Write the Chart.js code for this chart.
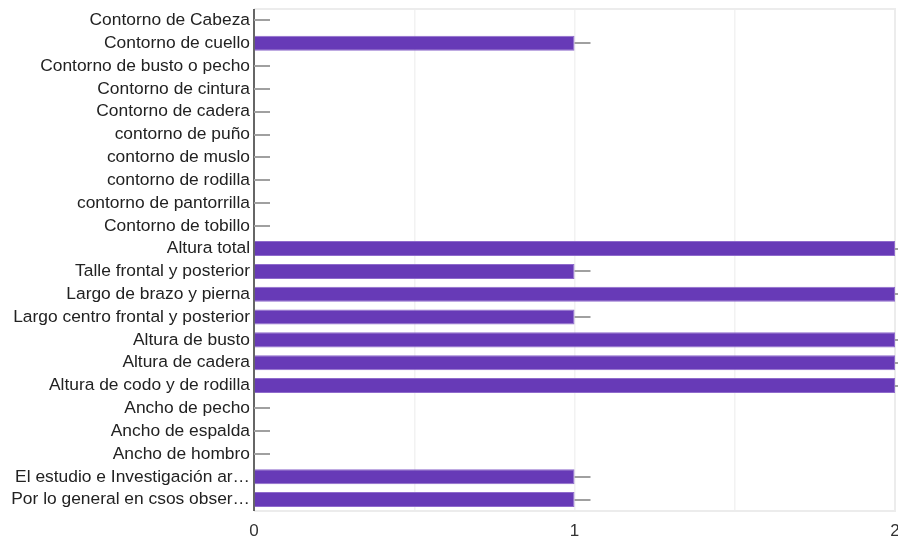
<!DOCTYPE html>
<html>
<head>
<meta charset="utf-8">
<script src="https://cdn.jsdelivr.net/npm/chart.js@4"></script>
<style>
  html, body { margin: 0; padding: 0; background: #fff; }
  #wrap { width: 898px; height: 540px; position: relative; }
</style>
</head>
<body>
<div id="wrap"><canvas id="plotMedidas"></canvas></div>
<script>
  var categories = [
    "Contorno de Cabeza",
    "Contorno de cuello",
    "Contorno de busto o pecho",
    "Contorno de cintura",
    "Contorno de cadera",
    "contorno de puño",
    "contorno de muslo",
    "contorno de rodilla",
    "contorno de pantorrilla",
    "Contorno de tobillo",
    "Altura total",
    "Talle frontal y posterior",
    "Largo de brazo y pierna",
    "Largo centro frontal y posterior",
    "Altura de busto",
    "Altura de cadera",
    "Altura de codo y de rodilla",
    "Ancho de pecho",
    "Ancho de espalda",
    "Ancho de hombro",
    "El estudio e Investigación ar…",
    "Por lo general en csos obser…"
  ];
  var counts = [0, 1, 0, 0, 0, 0, 0, 0, 0, 0, 2, 1, 2, 1, 2, 2, 2, 0, 0, 0, 1, 1];
  var xTicks = [0, 1, 2];

  // small gray stub after the end of every bar
  var stubs = {
    id: "stubs",
    afterDatasetsDraw: function (chart) {
      var ctx = chart.ctx;
      var meta = chart.getDatasetMeta(0);
      ctx.save();
      ctx.strokeStyle = "#a0a0a0";
      ctx.lineWidth = 2;
      meta.data.forEach(function (bar) {
        ctx.beginPath();
        ctx.moveTo(bar.x, Math.round(bar.y));
        ctx.lineTo(bar.x + 16, Math.round(bar.y));
        ctx.stroke();
      });
      ctx.restore();
    }
  };

  // light frame round the plot area, dark axis line on the left
  var frame = {
    id: "frame",
    beforeDatasetsDraw: function (chart) {
      var a = chart.chartArea;
      var ctx = chart.ctx;
      ctx.save();
      ctx.strokeStyle = "#ececec";
      ctx.lineWidth = 2;
      ctx.beginPath();
      ctx.moveTo(a.left, a.top);
      ctx.lineTo(a.right, a.top);
      ctx.lineTo(a.right, a.bottom);
      ctx.lineTo(a.left, a.bottom);
      ctx.stroke();
      ctx.strokeStyle = "#333";
      ctx.lineWidth = 1.5;
      ctx.beginPath();
      ctx.moveTo(a.left, a.top);
      ctx.lineTo(a.left, a.bottom);
      ctx.stroke();
      ctx.restore();
    }
  };

  new Chart("plotMedidas", {
    type: "bar",
    data: {
      labels: categories,
      datasets: [
        {
          data: counts,
          backgroundColor: "#673ab7",
          borderColor: "#8f6bcc",
          borderWidth: 1,
          barPercentage: 0.66,
          categoryPercentage: 1
        }
      ]
    },
    options: {
      indexAxis: "y",
      responsive: true,
      maintainAspectRatio: false,
      animation: false,
      layout: { padding: { top: 9, right: 3, left: 0, bottom: 0 } },
      plugins: {
        legend: { display: false },
        tooltip: { enabled: false }
      },
      scales: {
        x: {
          min: xTicks[0],
          max: xTicks[xTicks.length - 1],
          border: { display: false },
          grid: {
            drawTicks: false,
            color: function (c) {
              if (c.index === 0) return "rgba(0,0,0,0)";
              return c.tick && c.tick.value === xTicks[xTicks.length - 1] ? "#ececec" : "#f2f2f2";
            },
            lineWidth: 1.5
          },
          ticks: {
            stepSize: 0.5,
            padding: 10,
            color: "#333",
            font: { family: "Liberation Sans, Arial, sans-serif", size: 17 },
            maxRotation: 0,
            callback: function (v) {
              return xTicks.indexOf(v) >= 0 ? String(v) : "";
            }
          },
          afterFit: function (s) {
            s.paddingLeft = 0;
            s.paddingRight = 0;
            s.height = 29;
          }
        },
        y: {
          border: { display: false },
          grid: { display: false, drawTicks: false },
          ticks: {
            padding: 4,
            color: "#222",
            autoSkip: false,
            font: { family: "Liberation Sans, Arial, sans-serif", size: 17.4 }
          },
          afterFit: function (s) {
            s.width = 254;
            s.paddingTop = 0;
            s.paddingBottom = 0;
          }
        }
      }
    },
    plugins: [frame, stubs]
  });
</script>
</body>
</html>
